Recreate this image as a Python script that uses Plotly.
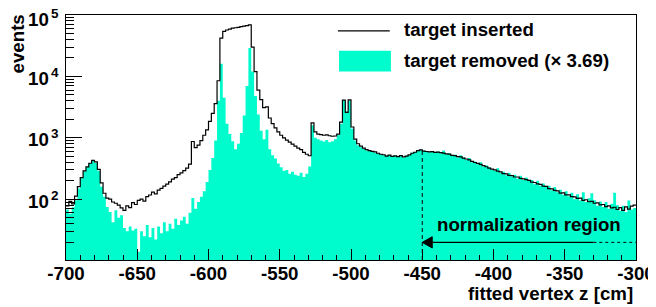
import numpy as np
import plotly.graph_objects as go

# ---------------- data (2 cm bins from -700 to -300 cm) ----------------
z_lo, z_hi, bin_w = -700, -300, 2

inserted = [
    78, 92, 84, 112, 160, 225, 290, 335, 385, 430,            # -700..-682
    405, 305, 185, 125, 104, 100, 90, 86, 80, 72,             # -680..-662
    66, 78, 73, 88, 82, 96, 100, 93, 110, 117,                # -660..-642
    130, 122, 141, 150, 163, 176, 192, 212, 224, 252,         # -640..-622
    268, 292, 322, 372, 870, 690, 760, 900, 1100, 1350,       # -620..-602
    1850, 2500, 3600, 8500, 42000, 54000, 57000, 59000, 61000, 62000,  # -600..-582
    63000, 64500, 66000, 67000, 69000, 30000, 12000, 6000, 4200, 3100,  # -580..-562
    3200, 2100, 1700, 1450, 1250, 1100, 1000, 920, 850, 790,  # -560..-542
    730, 680, 640, 580, 540, 510, 1750, 1250, 1150, 1130,     # -540..-522
    1100, 1120, 1080, 1060, 1070, 1150, 1800, 4100, 2600, 4150,  # -520..-502
    1500, 950, 800, 730, 680, 640, 620, 600, 590, 560,        # -500..-482
    540, 530, 505, 522, 498, 508, 492, 512, 488, 502,         # -480..-462
    528, 560, 582, 618, 635, 605, 598, 588, 596, 578,         # -460..-442
    586, 572, 562, 548, 542, 518, 512, 494, 490, 468,         # -440..-422
    452, 438, 412, 396, 382, 368, 352, 338, 322, 308,         # -420..-402
    300, 286, 278, 262, 258, 245, 242, 230, 230, 218,         # -400..-382
    214, 208, 202, 190, 187, 178, 174, 163, 162, 149,         # -380..-362
    147, 139, 137, 126, 127, 118, 118, 110, 109, 103,         # -360..-342
    104, 96, 98, 91, 92, 86, 87, 81, 82, 76,                  # -340..-322
    78, 72, 74, 68, 73, 66, 75, 69, 77, 80,                   # -320..-302
]

removed = [
    68, 58, 74, 96, 150, 220, 285, 335, 390, 425,             # -700..-682
    390, 290, 160, 110, 75, 62, 42, 66, 50, 55,               # -680..-662
    34, 30, 36, 31, 33, 14, 30, 25, 38, 24,                   # -660..-642
    34, 22, 36, 28, 42, 30, 40, 33, 48, 38,                   # -640..-622
    45, 52, 40, 60, 105, 70, 90, 110, 135, 190,               # -620..-602
    300, 470, 900, 4000, 16000, 4500, 1700, 1150, 880, 650,   # -600..-582
    800, 1200, 2300, 7000, 29000, 12000, 4800, 2400, 1300, 950,  # -580..-562
    1350, 650, 520, 460, 380, 330, 290, 300, 260, 280,        # -560..-542
    250, 240, 270, 230, 260, 340, 1600, 1000, 950, 900,       # -540..-522
    870, 920, 850, 880, 950, 1100, 1700, 4100, 2700, 4000,    # -520..-502
    1400, 900, 760, 700, 660, 620, 610, 590, 570, 560,        # -500..-482
    545, 520, 515, 525, 490, 510, 500, 505, 480, 510,         # -480..-462
    520, 570, 590, 610, 640, 620, 610, 580, 600, 590,         # -460..-442
    600, 560, 620, 540, 560, 510, 530, 480, 520, 480,         # -440..-422
    440, 470, 400, 410, 370, 400, 340, 355, 330, 300,         # -420..-402
    290, 320, 270, 280, 245, 270, 235, 250, 215, 240,         # -400..-382
    205, 225, 200, 205, 175, 200, 165, 180, 158, 165,         # -380..-362
    140, 158, 130, 142, 118, 135, 112, 128, 100, 120,         # -360..-342
    95, 130, 90, 104, 125, 96, 78, 92, 75, 90,                # -340..-322
    70, 84, 128, 80, 65, 78, 62, 95, 68, 72,                  # -320..-302
]

legend_labels = ["target inserted", "target removed (\u00d7 3.69)"]
x_tick_vals = list(range(-700, -299, 50))
x_tick_text = [str(v) for v in x_tick_vals]
y_tick_vals = [1e2, 1e3, 1e4, 1e5]
y_tick_exps = ["2", "3", "4", "5"]
norm_z = -450
norm_arrow_end = -330

# ---------------- figure ----------------
edges = np.arange(z_lo, z_hi + bin_w, bin_w)
assert len(inserted) == len(edges) - 1 == len(removed)
y_range = [1.01, 5.0]
cyan = "rgb(0,252,205)"
font_family = "Liberation Sans, Arial, Helvetica, sans-serif"
fsize = 18.7

fig = go.Figure()
fig.add_trace(go.Scatter(x=edges, y=[1] * len(edges), mode="lines",
                         line=dict(width=0, shape="hv"), showlegend=False,
                         hoverinfo="skip"))
fig.add_trace(go.Scatter(x=edges, y=removed + [removed[-1]], mode="lines",
                         line=dict(width=0, shape="hv", color=cyan),
                         fill="tonexty", fillcolor=cyan, showlegend=False,
                         name=legend_labels[1]))
fig.add_trace(go.Scatter(x=edges, y=inserted + [inserted[-1]], mode="lines",
                         line=dict(width=1.2, shape="hv", color="black"),
                         showlegend=False, name=legend_labels[0]))


def y_to_paper(v):
    return (np.log10(v) - y_range[0]) / (y_range[1] - y_range[0])


# dashed line at lower end of normalization region, up to the curve
i_norm = int((norm_z - z_lo) // bin_w)
top_paper = y_to_paper(inserted[i_norm])
arrow_y = 0.072
shapes = [
    dict(type="line", xref="x", yref="paper", x0=norm_z, x1=norm_z, y0=0, y1=top_paper,
         line=dict(color="black", width=1, dash="4px,3px")),
    dict(type="line", xref="x", yref="paper", x0=norm_z + 4, x1=norm_arrow_end,
         y0=arrow_y, y1=arrow_y, line=dict(color="black", width=1.2)),
    dict(type="line", xref="x", yref="paper", x0=norm_arrow_end, x1=z_hi,
         y0=arrow_y, y1=arrow_y, line=dict(color="black", width=1, dash="dot")),
    dict(type="path", xref="x", yref="paper",
         path=f"M {norm_z},{arrow_y} L {norm_z + 7},{arrow_y + 0.023} L {norm_z + 7},{arrow_y - 0.023} Z",
         fillcolor="black", line=dict(color="black", width=1)),
    # legend symbols
    dict(type="line", xref="paper", yref="paper", x0=0.477, x1=0.568, y0=0.935, y1=0.935,
         line=dict(color="black", width=1.2)),
    dict(type="rect", xref="paper", yref="paper", x0=0.479, x1=0.570, y0=0.769, y1=0.854,
         fillcolor=cyan, line=dict(width=0)),
]

bold = dict(family=font_family, size=fsize, color="black", weight="bold")
bold_sup = dict(family=font_family, size=13.5, color="black", weight="bold")
annotations = [
    dict(text=legend_labels[0], xref="paper", yref="paper", x=0.589, y=0.942,
         xanchor="left", yanchor="middle", showarrow=False, font=bold),
    dict(text=legend_labels[1], xref="paper", yref="paper", x=0.589, y=0.816,
         xanchor="left", yanchor="middle", showarrow=False, font=bold),
    dict(text="normalization region", xref="paper", yref="paper", x=0.812, y=0.143,
         xanchor="center", yanchor="middle", showarrow=False, font=bold),
    dict(text="events", xref="paper", yref="paper", x=-0.085, y=0.882,
         xanchor="center", yanchor="middle", textangle=-90, showarrow=False, font=bold),
    dict(text="fitted vertex z [cm]", xref="paper", yref="paper", x=0.998, y=-0.135,
         xanchor="right", yanchor="middle", showarrow=False, font=bold),
]
# y-axis decade labels drawn as "10" plus a raised exponent (ROOT style);
# the topmost one sits a little lower so that it stays inside the page
for k, (v, e) in enumerate(zip(y_tick_vals, y_tick_exps)):
    yp = y_to_paper(v)
    top = k == len(y_tick_vals) - 1
    annotations.append(dict(text="10", xref="paper", yref="paper", x=-0.027, y=yp,
                            xanchor="right", yanchor="middle",
                            yshift=-4 if top else -2,
                            showarrow=False, font=bold))
    annotations.append(dict(text=e, xref="paper", yref="paper", x=-0.029, y=yp,
                            xanchor="left", yanchor="middle",
                            yshift=2 if top else 4,
                            showarrow=False, font=bold_sup))

minor_y = [m * 10 ** d for d in range(1, 5) for m in range(2, 10)]

# the page body has an 8px default margin: the figure starts 8px in from the
# top-left corner of the window, so shrink it and its left/top margins by that much
body_off = 8
fig.update_layout(
    template=None,
    width=656 - body_off, height=307 - body_off,
    margin=dict(l=66 - body_off, r=20, t=15 - body_off, b=47, autoexpand=False),
    plot_bgcolor="white", paper_bgcolor="white",
    shapes=shapes, annotations=annotations,
    showlegend=False,
    xaxis=dict(range=[z_lo, z_hi], tickmode="array", tickvals=x_tick_vals,
               ticktext=x_tick_text, ticks="inside", ticklen=11, tickwidth=1,
               tickcolor="black", showline=True, mirror=True, linecolor="black",
               linewidth=1, showgrid=False, zeroline=False, automargin=False,
               tickfont=bold, ticklabelstandoff=-3, ticklabeloverflow="allow",
               minor=dict(dtick=10, tick0=-700, ticks="inside", ticklen=5.5,
                          tickwidth=1, tickcolor="black", showgrid=False)),
    yaxis=dict(type="log", range=y_range, tickmode="array", tickvals=y_tick_vals,
               showticklabels=False, ticks="inside", ticklen=16, tickwidth=1,
               tickcolor="black", showline=True, mirror=True, linecolor="black",
               linewidth=1, showgrid=False, zeroline=False, automargin=False,
               minor=dict(tickmode="array", tickvals=minor_y, ticks="inside",
                          ticklen=8, tickwidth=1, tickcolor="black", showgrid=False)),
)

fig.write_html("out.html")
